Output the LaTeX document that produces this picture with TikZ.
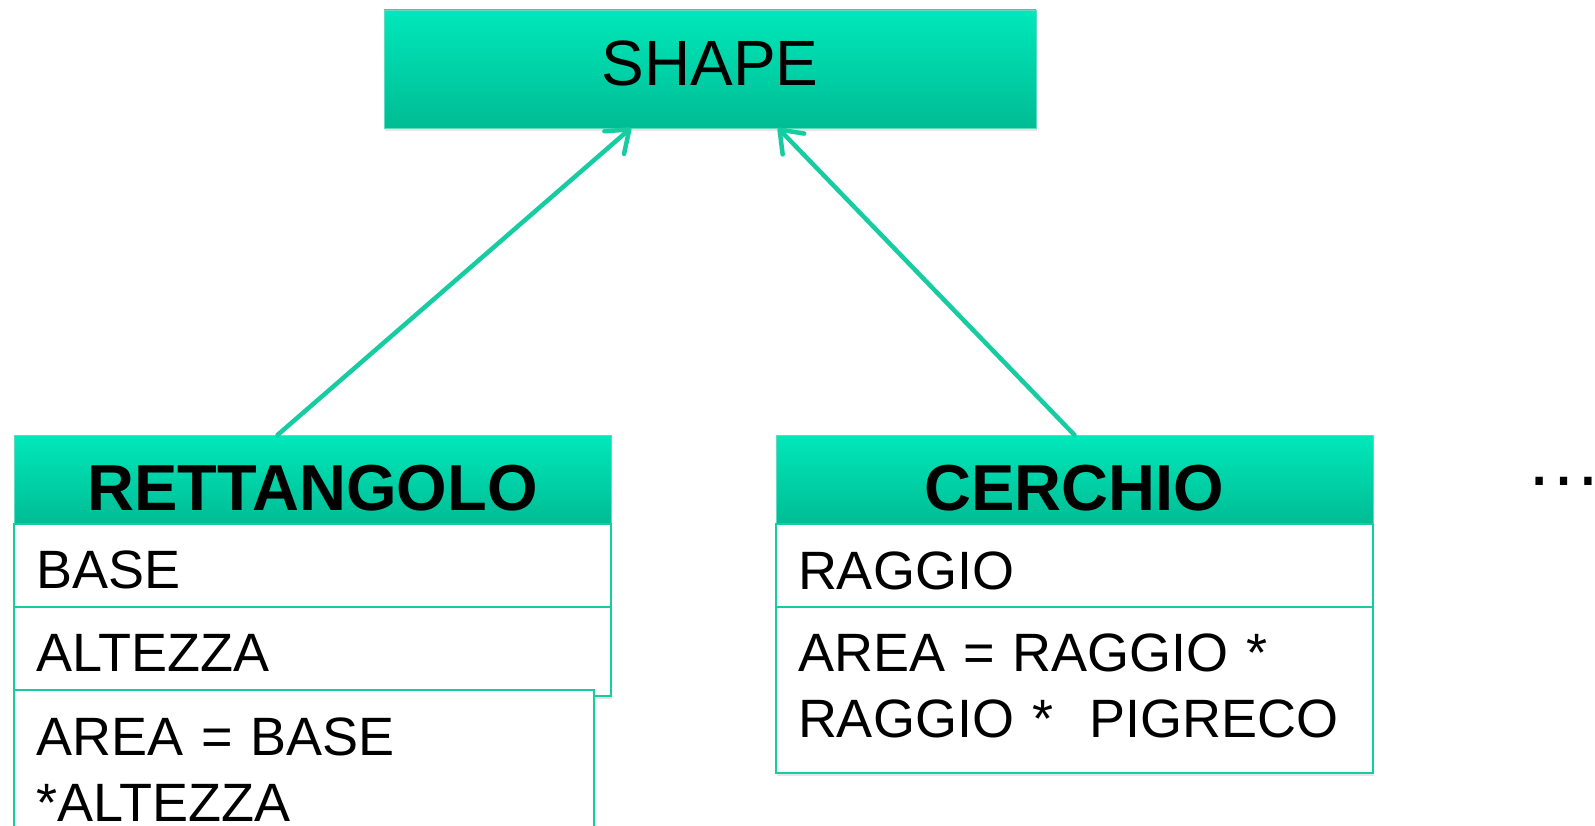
\documentclass[tikz,border=0pt]{standalone}
\usepackage{fontspec}
\setmainfont{Liberation Sans}
\usepackage{xcolor}
\usepackage{tikz}
\usetikzlibrary{arrows.meta,shadows}

\definecolor{hdrtop}{RGB}{0,232,186}
\definecolor{hdrbot}{RGB}{0,188,148}
\definecolor{edge}{RGB}{24,204,162}

\begin{document}
\begin{tikzpicture}[x=1pt,y=-1pt,
  hdr/.style={draw=edge!70, line width=0.8pt, top color=hdrtop, bottom color=hdrbot,
    inner sep=0pt, outer sep=0pt,
    drop shadow={opacity=0.2,shadow xshift=0.5pt,shadow yshift=-3pt}},
  row/.style={draw=edge, line width=1.5pt, fill=white, anchor=north west,
    inner xsep=22pt, inner ysep=0pt, outer sep=0pt, align=left,
    font=\fontsize{54}{66}\selectfont,
    drop shadow={opacity=0.2,shadow xshift=0.5pt,shadow yshift=-3pt}},
  title/.style={hdr, minimum width=597pt, minimum height=89pt,
    text height=62pt, text depth=0pt, font=\bfseries\fontsize{65}{70}\selectfont},
  inherit/.style={edge, line width=4.5pt, line cap=round,
    -{Straight Barb[length=20pt,width=30pt,line cap=round,line join=round]}}
]
\useasboundingbox (0,0) rectangle (1595,826);

% Base class
\node[hdr, minimum width=652pt, minimum height=118pt, text height=46pt, text depth=12pt,
  font=\fontsize{64}{70}\selectfont] (shape) at (710,69) {SHAPE};

% Rettangolo
\node[title] (rett) at (312.5,479.5) {RETTANGOLO};
\node[row, text width=553pt, minimum height=83pt, text height=45pt, text depth=0pt]
  (rettBase) at (rett.south west) {BASE};
\node[row, text width=553pt, minimum height=89pt, text height=40pt, text depth=0pt]
  (rettAlt) at (rettBase.south west) {ALTEZZA};
\node[row, text width=536pt, minimum height=200pt, text height=40pt, text depth=110pt]
  (rettArea) at ([yshift=6pt]rettAlt.south west) {AREA = BASE\\{*}ALTEZZA};

% Cerchio
\node[title] (cer) at (1074.5,479.5) {CERCHIO};
\node[row, text width=553pt, minimum height=83pt, text height=47pt, text depth=0pt]
  (cerRag) at (cer.south west) {RAGGIO};
\node[row, text width=553pt, minimum height=166pt, text height=40pt, text depth=77pt]
  (cerArea) at (cerRag.south west) {AREA = RAGGIO *\\RAGGIO *~~PIGRECO};

% Other shapes
\node[anchor=base west, inner sep=0pt, font=\fontsize{77}{80}\selectfont]
  (more) at (1525,485) {…};

% Draw inheritance arrows
\foreach \sub/\sx/\dx in {rett/-35/-79, cer/0/68}
  \draw[inherit] ([xshift=\sx pt]\sub.north) -- ([xshift=\dx pt]shape.south);
\end{tikzpicture}
\end{document}
